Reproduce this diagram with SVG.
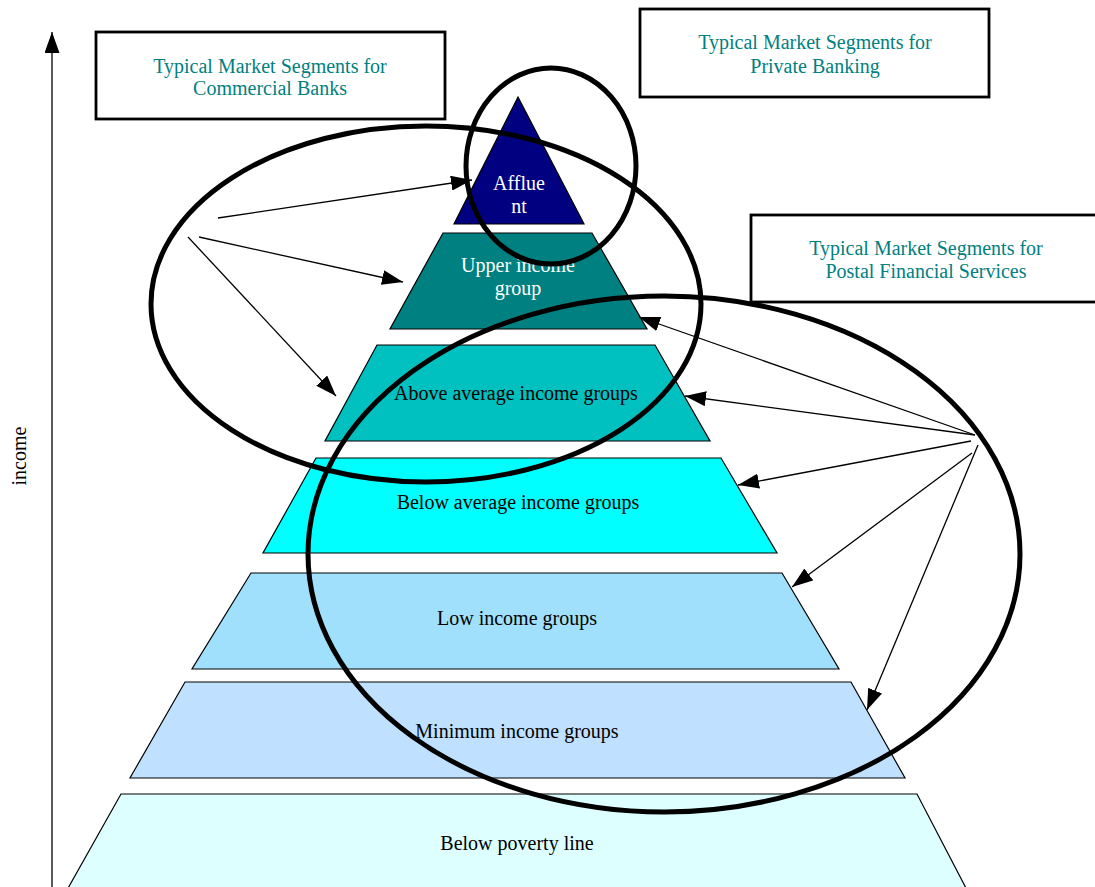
<svg xmlns="http://www.w3.org/2000/svg" width="1095" height="887" viewBox="0 0 1095 887">
  <style>
    .lbl { font-family: "Liberation Serif", "Times New Roman", serif; font-size: 20px; text-anchor: middle; }
    .dark { fill: #000000; }
    .light { fill: #ffffff; }
    .title { fill: #008080; }
    .tier { stroke: #000000; stroke-width: 1.2; }
    .box { fill: #ffffff; stroke: #000000; stroke-width: 2.8; }
    .ring { fill: none; stroke: #000000; stroke-width: 5; }
    .conn { stroke: #000000; stroke-width: 1.3; fill: none; marker-end: url(#head); }
  </style>
  <defs>
    <marker id="head" markerUnits="userSpaceOnUse" markerWidth="21" markerHeight="15" refX="21" refY="7.5" orient="auto">
      <path d="M0,0 L21,7.5 L0,15 z" fill="#000000"/>
    </marker>
  </defs>

  <rect width="1095" height="887" fill="#ffffff"/>

  <!-- income axis -->
  <g id="axis">
    <line x1="52" y1="887" x2="52" y2="32" class="conn" stroke-width="1.6"/>
    <text class="lbl dark" transform="translate(26,456) rotate(-90)">income</text>
  </g>

  <!-- pyramid tiers, top to bottom -->
  <g id="tier-affluent">
    <polygon class="tier" fill="#000080" points="518,97 584,224 454,224"/>
    <text class="lbl light" x="519" y="190">Afflue</text>
    <text class="lbl light" x="519" y="213">nt</text>
  </g>
  <g id="tier-upper">
    <polygon class="tier" fill="#008080" points="443,233 592,233 647,329 390,329"/>
    <text class="lbl light" x="518" y="272">Upper income</text>
    <text class="lbl light" x="518" y="295">group</text>
  </g>
  <g id="tier-above-average">
    <polygon class="tier" fill="#00C0C0" points="377,345 655,345 710,441 325,441"/>
    <text class="lbl dark" x="516" y="400">Above average income groups</text>
  </g>
  <g id="tier-below-average">
    <polygon class="tier" fill="#00FFFF" points="316,458 721,458 777,553 263,553"/>
    <text class="lbl dark" x="518" y="509">Below average income groups</text>
  </g>
  <g id="tier-low">
    <polygon class="tier" fill="#A0E0FC" points="251,573 782,573 839,669 192,669"/>
    <text class="lbl dark" x="517" y="625">Low income groups</text>
  </g>
  <g id="tier-minimum">
    <polygon class="tier" fill="#BFE1FF" points="185,682 851,682 905,778 130,778"/>
    <text class="lbl dark" x="517" y="738">Minimum income groups</text>
  </g>
  <g id="tier-poverty">
    <polygon class="tier" fill="#DDFFFF" points="121,794 917,794 967,890 67,890"/>
    <text class="lbl dark" x="517" y="850">Below poverty line</text>
  </g>

  <!-- segment captions -->
  <g id="box-commercial">
    <rect class="box" x="96" y="32" width="349" height="87"/>
    <text class="lbl title" x="270" y="73">Typical Market Segments for</text>
    <text class="lbl title" x="270" y="95">Commercial Banks</text>
  </g>
  <g id="box-private">
    <rect class="box" x="640" y="9" width="349" height="88"/>
    <text class="lbl title" x="815" y="49">Typical Market Segments for</text>
    <text class="lbl title" x="815" y="73">Private Banking</text>
  </g>
  <g id="box-postal">
    <rect class="box" x="751" y="215" width="350" height="87"/>
    <text class="lbl title" x="926" y="255">Typical Market Segments for</text>
    <text class="lbl title" x="926" y="278">Postal Financial Services</text>
  </g>

  <!-- pointers from segments to tiers -->
  <g id="connectors">
    <line class="conn" x1="218" y1="218" x2="472" y2="180"/>
    <line class="conn" x1="199" y1="237" x2="403" y2="282"/>
    <line class="conn" x1="188" y1="237" x2="336" y2="396"/>
    <line class="conn" x1="975" y1="435" x2="639" y2="317"/>
    <line class="conn" x1="975" y1="435" x2="685" y2="396"/>
    <line class="conn" x1="971" y1="441" x2="738" y2="485"/>
    <line class="conn" x1="972" y1="453" x2="792" y2="587"/>
    <line class="conn" x1="978" y1="445" x2="867" y2="710"/>
  </g>

  <!-- segment outlines -->
  <g id="ring-commercial">
    <ellipse class="ring" cx="426" cy="304" rx="275" ry="178"/>
  </g>
  <g id="ring-private">
    <ellipse class="ring" cx="551" cy="166" rx="85" ry="98"/>
  </g>
  <g id="ring-postal">
    <ellipse class="ring" cx="664" cy="554" rx="356" ry="258"/>
  </g>
</svg>
